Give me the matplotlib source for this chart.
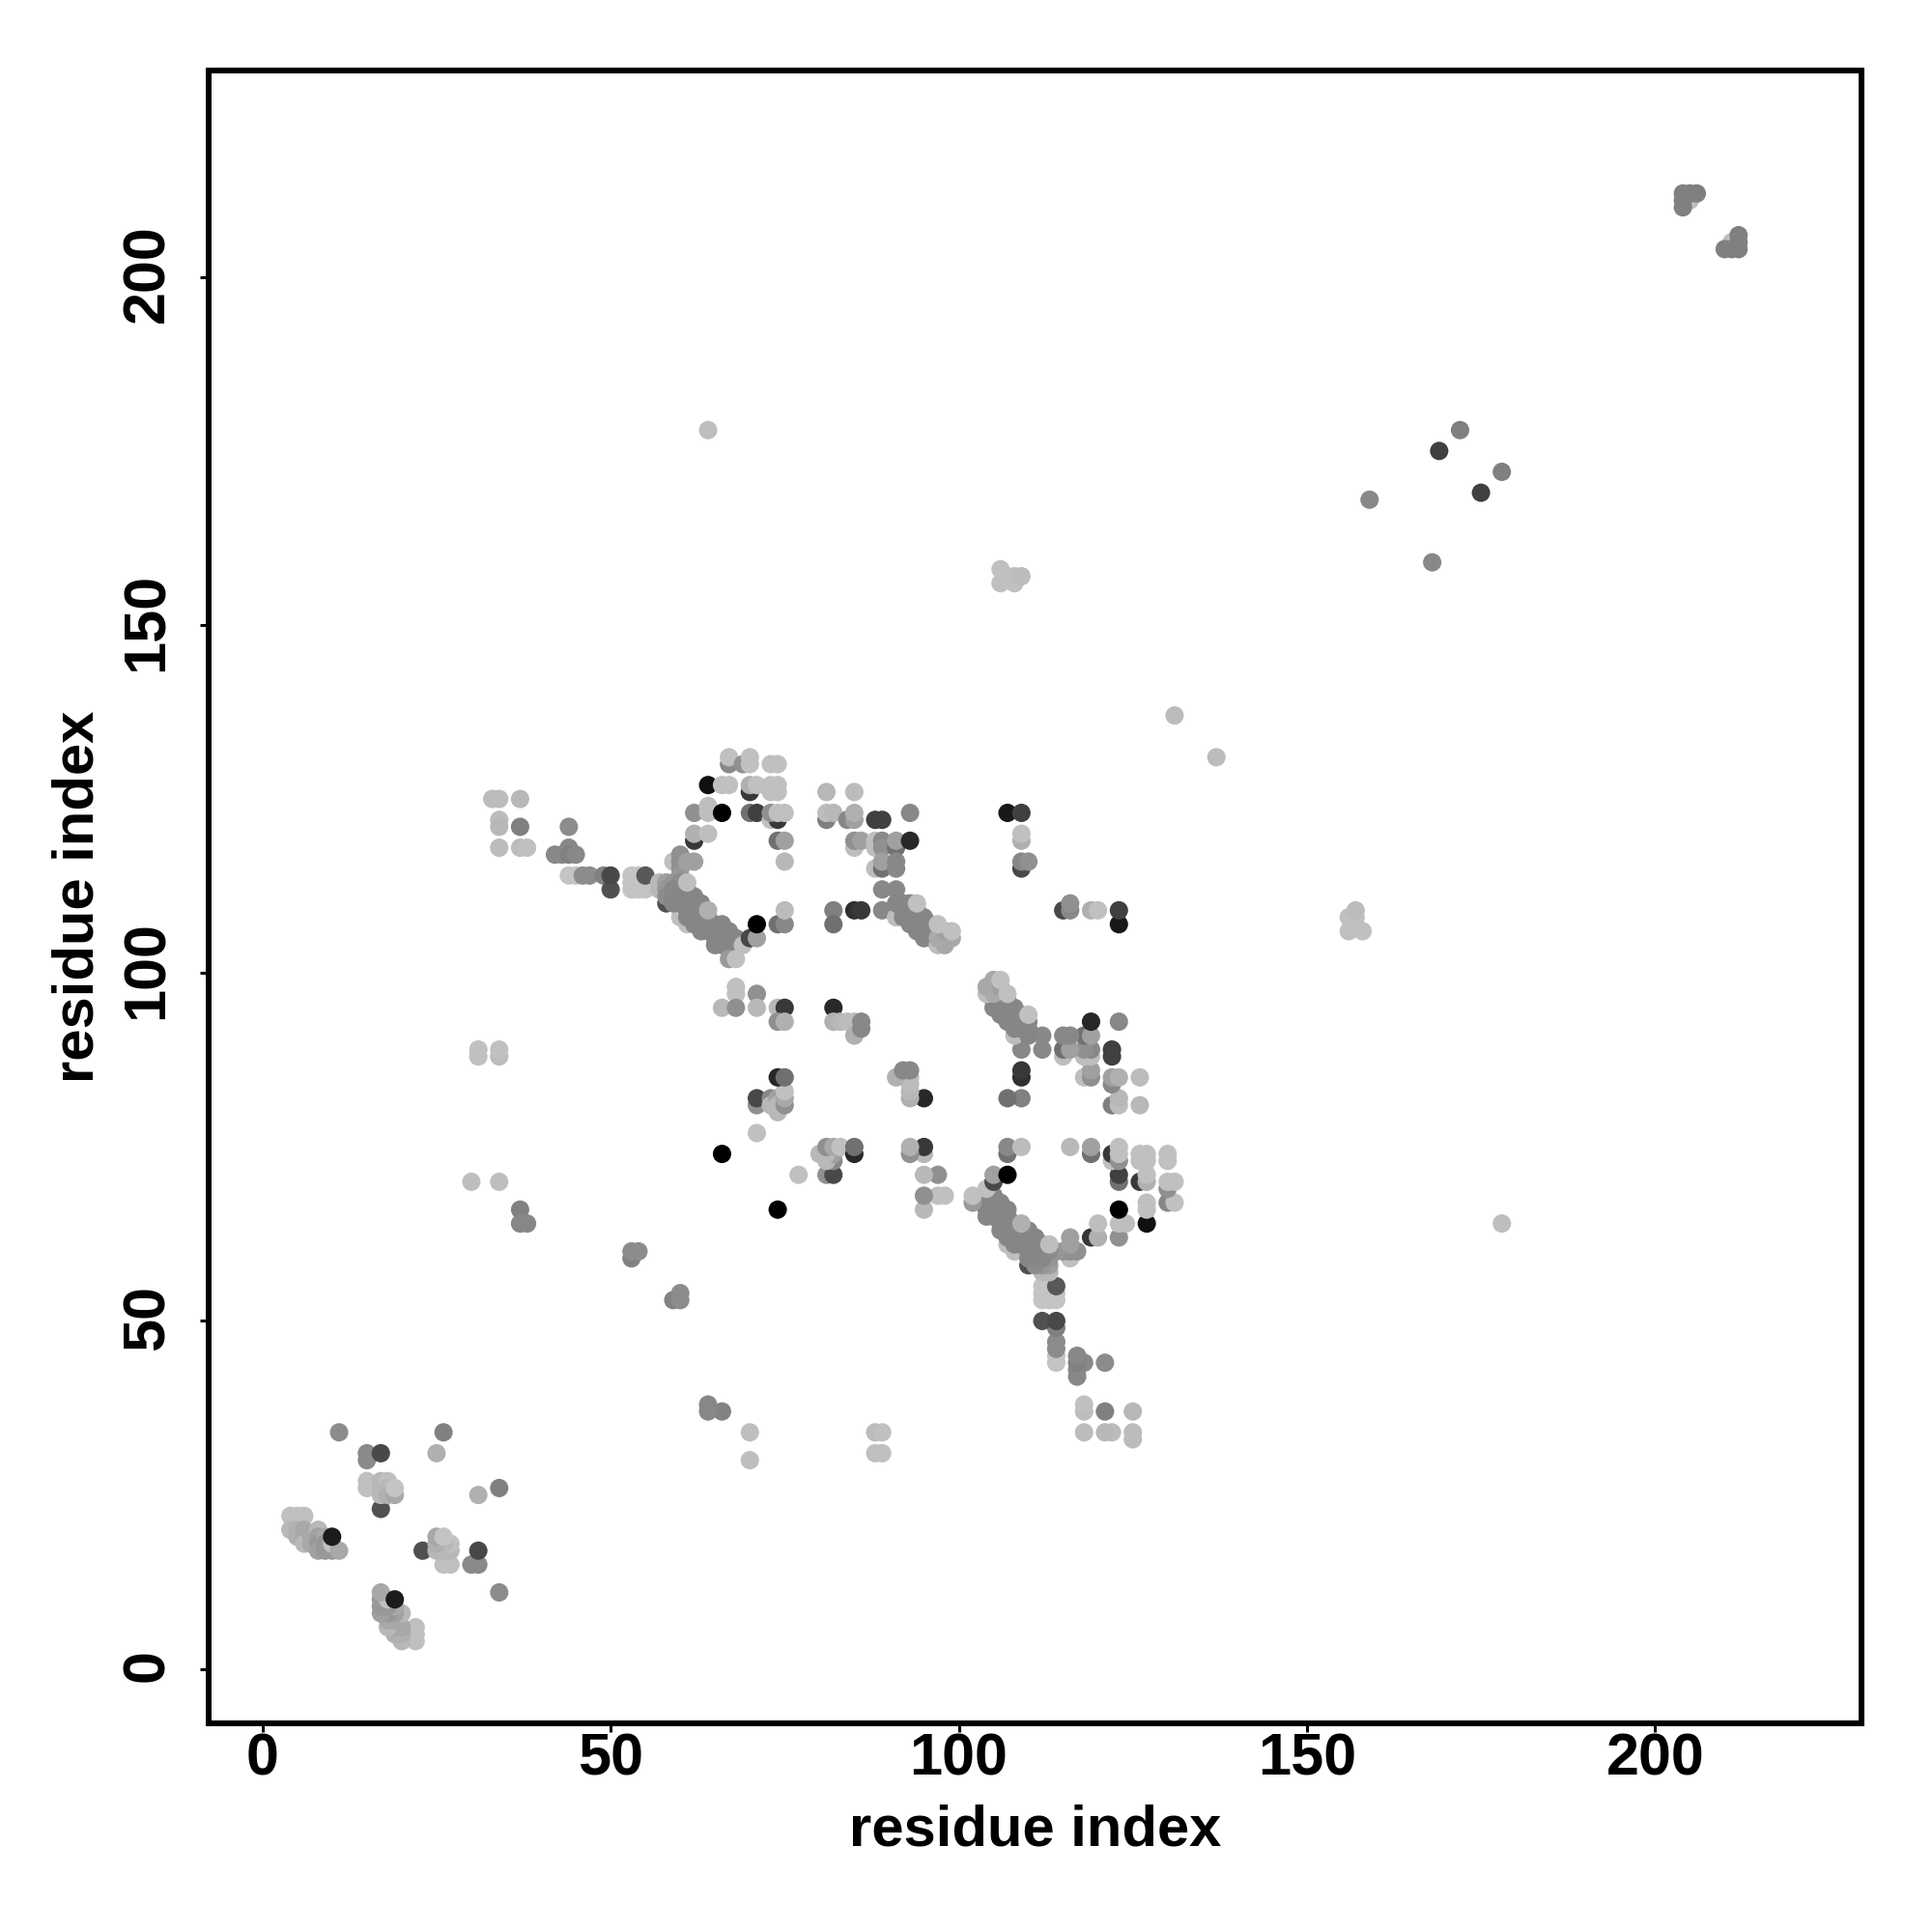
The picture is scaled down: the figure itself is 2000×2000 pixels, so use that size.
import numpy as np
import matplotlib
matplotlib.use("Agg")
import matplotlib.pyplot as plt
from matplotlib.transforms import ScaledTranslation

plt.rcParams['font.family'] = ['Liberation Sans', 'DejaVu Sans']

# контакты (i, j, оттенок), только половина карты, i < j
contacts_nterm = [
    (4, 22, 192), (5, 22, 192), (6, 22, 192), (4, 20, 184), (5, 20, 176), (5, 19, 176),
    (6, 20, 168), (6, 19, 168), (6, 18, 184), (7, 19, 168), (7, 18, 168), (8, 20, 184),
    (8, 19, 160), (8, 18, 152), (8, 17, 160), (9, 19, 168), (9, 18, 152), (9, 17, 152),
    (10, 17, 152), (10, 18, 192), (11, 17, 168), (10, 19, 28),
    (11, 34, 140), (15, 31, 138), (15, 30, 138), (17, 31, 72), (15, 27, 192), (15, 26, 192),
    (17, 23, 80), (17, 27, 184), (17, 26, 184), (17, 25, 184), (18, 27, 192), (18, 26, 184),
    (18, 25, 176), (19, 25, 168), (19, 26, 196), (25, 31, 176), (26, 34, 128),
]
contacts_far = [
    (30, 70, 190), (34, 70, 190), (31, 88, 192), (31, 89, 192), (34, 88, 188), (34, 89, 192),
    (37, 66, 130), (37, 64, 135), (38, 64, 135), (53, 59, 130), (53, 60, 140), (54, 60, 140),
    (33, 125, 188), (34, 125, 188), (37, 125, 184), (34, 122, 188), (34, 121, 184),
    (37, 121, 128), (34, 118, 188), (37, 118, 188), (38, 118, 192),
    (44, 121, 140), (44, 118, 136), (42, 117, 136), (43, 117, 136), (44, 117, 128), (45, 117, 136),
    (44, 114, 196), (45, 114, 196), (46, 114, 140), (47, 114, 140), (49, 114, 128), (50, 112, 80),
    (50, 114, 72), (53, 114, 196), (53, 113, 196), (53, 112, 196), (54, 114, 196), (54, 113, 196),
    (54, 112, 196), (55, 113, 196), (55, 112, 196), (55, 114, 88),
]
contacts_band1 = [
    (57, 113, 184), (57, 112, 184), (58, 110, 80), (60, 108, 190), (61, 107, 190), (58, 113, 160),
    (58, 112, 150), (59, 113, 150), (59, 116, 192), (60, 117, 144), (60, 116, 144), (60, 115, 144),
    (60, 114, 150), (60, 113, 140), (61, 116, 160), (62, 116, 160),
    (58, 111, 140), (59, 112, 136), (59, 111, 136), (59, 110, 134), (60, 112, 136), (60, 111, 134),
    (60, 110, 134), (61, 112, 134), (61, 111, 134), (61, 110, 134), (61, 109, 134), (61, 108, 134),
    (62, 111, 134), (62, 110, 134), (62, 109, 134), (62, 108, 134), (62, 107, 134), (63, 110, 134),
    (63, 109, 134), (63, 108, 134), (63, 107, 134), (63, 106, 134), (64, 108, 134), (64, 107, 134),
    (64, 106, 134), (65, 107, 134), (65, 106, 134), (65, 105, 134), (65, 104, 134), (66, 107, 134),
    (66, 106, 134), (66, 105, 134), (66, 104, 134), (67, 106, 134), (67, 105, 134), (67, 104, 134),
    (68, 105, 134), (68, 104, 134), (61, 113, 190), (64, 109, 176),
    (67, 102, 153), (68, 102, 192), (69, 104, 192), (70, 105, 72), (71, 105, 160), (71, 107, 0),
    (74, 107, 112), (75, 107, 136), (75, 109, 188),
    (62, 119, 56), (62, 120, 176), (64, 120, 190), (62, 123, 144), (64, 124, 190), (64, 123, 190),
    (66, 123, 0), (64, 127, 16), (66, 127, 192), (67, 127, 192), (67, 130, 136), (67, 131, 192),
    (69, 130, 144), (70, 131, 192), (70, 130, 192), (73, 130, 192), (74, 130, 192), (70, 126, 56),
    (70, 127, 176), (71, 127, 192), (73, 126, 192), (74, 126, 192), (73, 127, 192), (74, 127, 192),
    (70, 123, 112), (71, 123, 64), (73, 122, 192), (74, 122, 56), (73, 123, 144), (74, 123, 192),
    (75, 123, 192), (74, 119, 112), (75, 119, 160), (75, 116, 184),
]
contacts_middle = [
    (68, 98, 192), (68, 97, 192), (71, 97, 144), (66, 95, 184), (68, 95, 144), (71, 95, 184),
    (74, 95, 184), (75, 95, 56), (74, 93, 144), (75, 93, 176),
    (71, 77, 192), (71, 81, 144), (71, 82, 72), (73, 82, 136), (73, 81, 184), (74, 82, 160),
    (74, 81, 184), (74, 80, 184), (75, 81, 144), (75, 82, 168), (75, 83, 192), (74, 85, 40),
    (75, 85, 112), (66, 74, 0),
    (82, 95, 40), (82, 93, 176), (83, 93, 184), (84, 93, 188), (85, 93, 188), (85, 91, 176),
    (86, 93, 136), (86, 92, 136),
    (81, 126, 184), (85, 126, 188), (81, 122, 128), (81, 123, 190), (82, 123, 184), (84, 122, 136),
    (85, 122, 160), (85, 123, 176), (88, 122, 64), (89, 122, 64), (93, 123, 136),
    (85, 118, 190), (85, 119, 144), (86, 119, 160), (88, 118, 190), (88, 119, 190), (89, 119, 136),
    (89, 118, 144), (91, 118, 112), (91, 119, 160), (93, 119, 40),
    (88, 115, 190), (89, 115, 112), (89, 116, 160), (91, 115, 136), (91, 116, 136), (89, 112, 136),
    (91, 112, 136), (82, 109, 128), (82, 107, 112), (85, 109, 48), (86, 109, 56), (89, 109, 136),
]
contacts_band2 = [
    (91, 108, 190), (91, 110, 134), (92, 110, 134), (93, 110, 134), (92, 109, 134), (93, 109, 134),
    (94, 109, 134), (92, 108, 134), (93, 108, 134), (94, 108, 134), (95, 108, 134), (93, 107, 134),
    (94, 107, 134), (95, 107, 134), (96, 107, 134), (94, 106, 134), (95, 106, 134), (96, 106, 134),
    (95, 105, 134), (96, 105, 134), (97, 104, 190), (98, 104, 168), (97, 105, 170), (98, 105, 168),
    (99, 105, 168), (98, 106, 160), (94, 110, 192), (97, 107, 192), (99, 106, 192),
]
contacts_cterm = [
    (107, 123, 24), (109, 123, 64), (109, 119, 176), (109, 120, 192), (109, 115, 72), (109, 116, 136),
    (110, 116, 144), (106, 158, 192), (106, 156, 192), (107, 157, 192), (108, 157, 192),
    (108, 156, 192), (109, 157, 188), (64, 178, 190), (131, 137, 188), (159, 168, 136),
    (169, 175, 64), (172, 178, 128), (205, 211, 190), (204, 212, 128), (205, 212, 128),
    (206, 212, 128), (204, 211, 128), (204, 210, 128),
]

contacts = contacts_nterm + contacts_far + contacts_band1 + contacts_middle + contacts_band2 + contacts_cterm
res_i = np.array([c[0] for c in contacts])
res_j = np.array([c[1] for c in contacts])
shade = np.array([c[2] for c in contacts])

ticks = [0, 50, 100, 150, 200]

fig = plt.figure(figsize=(10, 10), dpi=200)
ax = fig.add_axes([216 / 2000, 1 - 1784 / 2000, 1711 / 2000, 1711 / 2000])

# карта симметрична, вторая половина зеркальная
ax.scatter(np.concatenate([res_i, res_j]), np.concatenate([res_j, res_i]),
           c=np.concatenate([shade, shade]), cmap='gray', vmin=0, vmax=255,
           s=47, linewidths=0, zorder=2)

ax.set_xlim(-7.73, 229.65)
ax.set_ylim(-7.81, 229.66)
ax.set_xticks(ticks)
ax.set_yticks(ticks)
ax.tick_params(length=3.2, width=1.1, labelsize=22)
ax.tick_params(axis='x', pad=0.3)
ax.tick_params(axis='y', pad=9)
shift_up = ScaledTranslation(0, 1.2 / 72, fig.dpi_scale_trans)
for lab in ax.get_xticklabels():
    lab.set_fontweight('bold')
for lab in ax.get_yticklabels():
    lab.set_fontweight('bold')
    lab.set_rotation(90)
    lab.set_va('center')
    lab.set_transform(lab.get_transform() + shift_up)
for side in ax.spines.values():
    side.set_linewidth(2.16)

ax.set_xlabel('residue index', fontsize=21.5, fontweight='bold', labelpad=6)
ax.set_ylabel('residue index', fontsize=21.5, fontweight='bold', labelpad=6)

plt.savefig('out.png', dpi=200)
